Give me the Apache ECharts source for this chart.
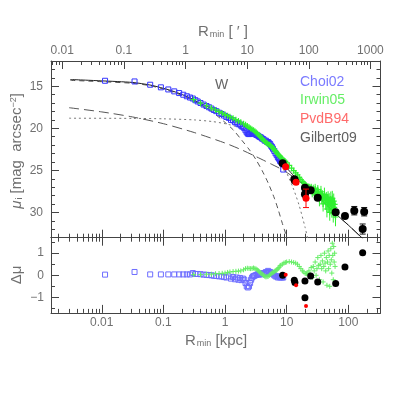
<!DOCTYPE html>
<html><head><meta charset="utf-8">
<script src="https://cdn.jsdelivr.net/npm/echarts@6/dist/echarts.min.js"></script>
<style>html,body{margin:0;padding:0;background:#fff}#c{width:415px;height:415px}</style>
</head><body><div id="c"></div>
<script>
// ---------------- data (R in kpc, mu in mag arcsec^-2, residual in mag) ----------------
const kpcTicks = [0.01, 0.1, 1, 10, 100];
const arcminTicks = [0.01, 0.1, 1, 10, 100, 1000];
const muTicks = [15, 20, 25, 30];
const resTicks = [-1, 0, 1];
const rMinKpc = 0.0015, rMaxKpc = 333;
const muMin = 12, muMax = 33;
const resMin = -1.7, resMax = 1.7;
const KPC_PER_ARCMIN = 0.22835;

// model components
const totalR  = [0.00309,0.01,0.0316,0.0603,0.0891,0.129,0.186,0.269,0.389,0.575,0.832,1.2,1.74,2.57,3.72,5.37,6.46,7.76,8.71,10,13.5,20,25.1,31.6,39.8,57,100,166,180];
const totalMu = [14.20,14.36,14.55,14.85,15.15,15.48,15.89,16.38,17.0,17.58,18.16,18.78,19.4,20.3,21.1,22.0,22.8,23.75,24.2,24.7,25.75,26.8,27.4,28.05,28.75,29.9,31.5,33.0,33.25];
const haloR  = [0.00295,0.01,0.0316,0.1,0.316,1,1.78,3.16,5.62,8.91,13.2,20,31.6,57,100,200];
const haloMu = [17.55,18.05,18.65,19.45,20.5,21.75,22.5,23.35,24.25,25.0,25.85,26.85,28.1,29.9,31.5,33.6];
const bulgeR  = [0.00309,0.01,0.0316,0.0603,0.1,0.158,0.251,0.398,0.631,1.0,1.365,1.862,2.512,3.162,3.981,5.012,6.31,7.31,8.51,10,11.2];
const bulgeMu = [14.3,14.46,14.65,14.93,15.33,15.8,16.4,17.2,18.1,19.3,20.2,21.4,22.6,23.7,25.0,26.5,28.3,29.7,31.3,32.9,34.2];
const diskR  = [0.00295,0.0316,0.1,0.316,0.631,1,1.585,2.512,3.162,3.981,5.012,6.31,7.943,10,12.59,15.85,19.95,22.9];
const diskMu = [18.8,18.82,18.87,19.0,19.2,19.45,19.83,20.43,20.86,21.4,22.06,22.9,23.96,25.3,27.0,29.1,31.8,33.7];

// Choi02
const choiR = [0.0113,0.034,0.061,0.091,0.12,0.15,0.18,0.21,0.24,0.27,0.30,0.33,0.36,0.40,0.45,0.50,0.55,0.60,0.66,0.72,0.80,0.88,0.96,1.05,1.15,1.25,1.35,1.45,1.55,1.65,1.75,1.85,1.95,2.05,2.15,2.25,2.35,2.45,2.55,2.65,2.75,2.85,2.95,3.1,3.25,3.4,3.55,3.7,3.85,4.0,4.2,4.4,4.6,4.8,5.0,5.2,5.4,5.6,5.8,6.0,6.3,6.6,6.9,7.2,7.5,7.8,8.1,8.4,8.8];
const choiMu = [14.35,14.43,14.82,15.13,15.38,15.61,15.81,16.01,16.19,16.34,16.46,16.66,16.81,16.99,17.18,17.35,17.50,17.65,17.82,17.96,18.15,18.30,18.48,18.65,18.76,19.00,19.05,19.27,19.31,19.51,19.54,19.76,19.81,19.98,20.24,20.49,20.64,20.69,20.63,20.57,20.55,20.58,20.63,20.71,20.79,20.86,20.97,21.04,21.10,21.23,21.30,21.46,21.47,21.62,21.63,21.77,21.87,22.08,22.23,22.43,22.69,22.97,23.19,23.46,23.62,23.87,23.99,24.16,24.9];
const choiRes = [0.03,0.15,0.04,0.04,0.04,0.04,0.04,0.04,0.04,0.04,0.10,0.06,0.06,0.05,0.03,0.02,0.01,0.00,-0.02,-0.03,-0.05,-0.05,-0.08,-0.10,-0.05,-0.15,-0.08,-0.18,-0.10,-0.20,-0.12,-0.22,-0.15,-0.20,-0.35,-0.50,-0.55,-0.50,-0.35,-0.20,-0.10,-0.05,-0.03,0.00,0.02,0.05,0.03,0.05,0.08,0.05,0.10,0.05,0.15,0.10,0.20,0.15,0.15,0.10,0.10,0.05,0.00,-0.05,-0.05,-0.10,-0.05,-0.10,-0.08,-0.10,-0.10];

// Irwin05
const irwinR = [0.31,0.4,0.5,0.6,0.7,0.8,0.9,1.0,1.1,1.2,1.35,1.5,1.65,1.8,2.0,2.15,2.3,2.45,2.6,2.75,2.9,3.05,3.2,3.35,3.5,3.65,3.8,4.0,4.2,4.4,4.6,4.8,5.0,5.25,5.5,5.75,6.0,6.25,6.5,6.75,7.0,7.25,7.5,7.75,8.0,8.5,9.0,9.5,10,11,12,13,14,15,16,17,18,19,20,21,22,
  23,24,25,26,27,28,29,30,31,32,33,34,35,36,37,38,39,40,41,42,43,44,45,46,47,48,49,50,51,52,53,54,55,56,57,58,59,60,61,62];
const irwinMu = [16.59,17.01,17.32,17.60,17.82,18.02,18.20,18.37,18.50,18.62,18.80,18.97,19.12,19.28,19.47,19.59,19.73,19.88,20.03,20.14,20.23,20.36,20.50,20.64,20.77,20.91,21.06,21.23,21.40,21.55,21.69,21.78,21.88,21.94,22.05,22.20,22.36,22.50,22.64,22.80,22.97,23.09,23.22,23.32,23.42,23.60,23.77,23.94,24.10,24.41,24.74,25.04,25.30,25.54,25.82,26.09,26.32,26.52,26.72,26.86,26.95,
  26.97,27.23,27.04,27.6,27.2,27.51,27.2,27.9,27.69,27.29,27.73,28.47,27.86,27.54,28.23,27.96,28.99,28.37,27.85,28.37,28.8,28.27,29.59,28.62,28.18,29.05,28.51,29.98,29.05,28.41,28.97,29.62,28.33,28.94,30.1,28.65,29.4,29.04,29.69,30.54];
const irwinErr = [0.08,0.08,0.08,0.08,0.08,0.08,0.08,0.08,0.08,0.08,0.08,0.08,0.08,0.08,0.08,0.08,0.08,0.08,0.08,0.08,0.08,0.08,0.08,0.08,0.08,0.08,0.08,0.08,0.08,0.08,0.08,0.08,0.08,0.08,0.08,0.08,0.1,0.1,0.1,0.1,0.1,0.1,0.1,0.12,0.12,0.12,0.12,0.15,0.15,0.18,0.2,0.22,0.25,0.28,0.3,0.3,0.35,0.35,0.4,0.4,0.4,
  0.4,0.5,0.45,0.6,0.5,0.55,0.6,0.5,0.7,0.55,0.6,0.8,0.6,0.7,0.75,0.6,0.9,0.7,0.8,0.65,0.9,0.7,1.0,0.8,0.7,0.9,0.8,1.0,0.85,0.9,0.8,1.0,0.9,0.8,1.1,0.9,1.0,0.8,1.0,1.1];
const irwinRes = [0.03,0.03,0.05,0.05,0.07,0.08,0.09,0.10,0.13,0.15,0.17,0.18,0.19,0.20,0.25,0.30,0.32,0.31,0.30,0.31,0.33,0.31,0.28,0.24,0.20,0.15,0.10,0.05,0.00,-0.04,-0.07,-0.06,-0.05,0.00,0.05,0.10,0.12,0.16,0.20,0.23,0.25,0.30,0.35,0.42,0.45,0.50,0.55,0.58,0.60,0.62,0.60,0.58,0.55,0.50,0.40,0.30,0.20,0.15,0.08,0.07,0.10,
  0.2,0.05,0.35,-0.1,0.4,0.2,0.6,0.0,0.3,0.8,0.45,-0.2,0.5,0.9,0.3,0.65,-0.3,0.4,1.0,0.55,0.2,0.8,-0.45,0.6,1.1,0.3,0.9,-0.5,0.5,1.2,0.7,0.1,1.45,0.9,-0.2,1.3,0.6,1.0,0.4,-0.4];

// PvdB94
const pvdbR = [9.64, 14.2, 20.6];
const pvdbMu = [24.56, 26.42, 28.32];
const pvdbErr = [0.15, 0.2, 1.1];
const pvdbRes = [0.03, -0.45, -1.39];

// Gilbert09
const gilR = [8.6, 13.3, 13.6, 19.8, 19.8, 24.5, 31.9, 62.4, 88.3, 125, 181, 171];
const gilMu = [24.16, 26.06, 26.2, 27.06, 27.84, 27.37, 28.25, 29.98, 30.42, 29.79, 29.91, 31.97];
const gilErr = [0.15, 0.15, 0.15, 0.15, 0.2, 0.15, 0.2, 0.15, 0.2, 0.5, 0.5, 0.6];
const gilResR = [8.6, 13.3, 13.6, 19.8, 19.8, 24.5, 31.9, 62.4, 88.3, 171];
const gilRes = [0.0, -0.22, -0.33, -0.26, -1.02, -0.03, -0.3, -0.37, 0.37, 1.02];

const legendNames = ['Choi02', 'Irwin05', 'PvdB94', 'Gilbert09'];

// ---------------- styling ----------------
const FONT = '"Liberation Sans", Arial, sans-serif';
const AX = '#444';
const TXT = '#707070';
const BLUE = '#3434ff', BLUE2 = '#6d6dff';
const GREEN = '#30f030', GREEN2 = '#66ee66';
const RED = '#ff0000';
const BLACK = '#000';
const legendColors = ['#7a7aff', '#66ee66', '#ff6a6a', '#606060'];

const L10 = Math.log10;
const xMin = L10(rMinKpc), xMax = L10(rMaxKpc);
const arcOff = -L10(KPC_PER_ARCMIN);
function majorLogs(vals) { return vals.map(v => L10(v)); }
function minorLogs(lo, hi) {
  const out = [];
  for (let d = -4; d <= 4; d++) for (let k = 2; k <= 9; k++) { const v = L10(k) + d; if (v > lo && v < hi) out.push(v); }
  return out;
}
function fmtPow(v) { const n = Math.pow(10, v); return n < 1 ? n.toFixed(Math.round(-v)) : String(Math.round(n)); }
function range(a, b, s) { const o = []; for (let v = a; v <= b + 1e-9; v += s) o.push(+v.toFixed(3)); return o; }

function axisCommon(min, max, tickVals, len, showLine, labelVals, fmt, margin) {
  return {
    type: 'value', min, max,
    axisLine: { show: showLine, onZero: false, lineStyle: { color: AX, width: 1 } },
    axisTick: { show: true, inside: true, length: len, customValues: tickVals, lineStyle: { color: AX, width: 1 } },
    axisLabel: labelVals ? { show: true, customValues: labelVals, formatter: fmt, color: TXT, fontSize: 12, fontFamily: FONT, margin } : { show: false },
    splitLine: { show: false }, minorTick: { show: false }, splitArea: { show: false }
  };
}
const MAJ = 8, MIN = 4;
const kMaj = majorLogs(kpcTicks), kMin = minorLogs(xMin, xMax);
const aMaj = majorLogs(arcminTicks), aMin = minorLogs(xMin + arcOff, xMax + arcOff);
const xAxes = [
  Object.assign(axisCommon(xMin, xMax, kMaj, MAJ, true, null), { gridIndex: 0, position: 'bottom' }),
  Object.assign(axisCommon(xMin, xMax, kMin, MIN, false, null), { gridIndex: 0, position: 'bottom' }),
  Object.assign(axisCommon(xMin + arcOff, xMax + arcOff, aMaj, MAJ, true, aMaj, fmtPow, 4), { gridIndex: 0, position: 'top' }),
  Object.assign(axisCommon(xMin + arcOff, xMax + arcOff, aMin, MIN, false, null), { gridIndex: 0, position: 'top' }),
  Object.assign(axisCommon(xMin, xMax, kMaj, MAJ, true, kMaj, fmtPow, 4), { gridIndex: 1, position: 'bottom' }),
  Object.assign(axisCommon(xMin, xMax, kMin, MIN, false, null), { gridIndex: 1, position: 'bottom' }),
  Object.assign(axisCommon(xMin, xMax, kMaj, MAJ, true, null), { gridIndex: 1, position: 'top' }),
  Object.assign(axisCommon(xMin, xMax, kMin, MIN, false, null), { gridIndex: 1, position: 'top' })
];
const muMinor = range(13, 32, 1).filter(v => muTicks.indexOf(v) < 0);
const resMinor = [-1.5, -0.5, 0.5, 1.5];
const fmtRes = v => (v < 0 ? '\u2212' + Math.abs(v) : String(v));
const yAxes = [
  Object.assign(axisCommon(muMin, muMax, muTicks, MAJ, true, muTicks, v => String(v), 8), { gridIndex: 0, position: 'left', inverse: true }),
  Object.assign(axisCommon(muMin, muMax, muMinor, MIN, false, null), { gridIndex: 0, position: 'left', inverse: true }),
  Object.assign(axisCommon(muMin, muMax, muTicks, MAJ, true, null), { gridIndex: 0, position: 'right', inverse: true }),
  Object.assign(axisCommon(muMin, muMax, muMinor, MIN, false, null), { gridIndex: 0, position: 'right', inverse: true }),
  Object.assign(axisCommon(resMin, resMax, resTicks, MAJ, true, resTicks, fmtRes, 7), { gridIndex: 1, position: 'left' }),
  Object.assign(axisCommon(resMin, resMax, resMinor, MIN, false, null), { gridIndex: 1, position: 'left' }),
  Object.assign(axisCommon(resMin, resMax, resTicks, MAJ, true, null), { gridIndex: 1, position: 'right' }),
  Object.assign(axisCommon(resMin, resMax, resMinor, MIN, false, null), { gridIndex: 1, position: 'right' })
];

function pts(R, V) { return R.map((r, i) => [L10(r), V[i]]); }
function lineSeries(name, R, V, color, type, z) {
  return { type: 'line', name, xAxisIndex: 0, yAxisIndex: 0, data: pts(R, V), symbol: 'none', smooth: 0.25,
    lineStyle: { color, width: 1, type, opacity: 1 }, z, silent: true, animation: false };
}
function scatterSeries(name, xi, yi, R, V, symbol, size, style, z) {
  return { type: 'scatter', name, xAxisIndex: xi, yAxisIndex: yi, data: pts(R, V), symbol, symbolSize: size,
    itemStyle: Object.assign({ opacity: 1 }, style), z, silent: true, animation: false };
}
function errSeries(name, xi, yi, R, V, E, color, cap, z) {
  return { type: 'custom', name, xAxisIndex: xi, yAxisIndex: yi, z, clip: true, silent: true, animation: false,
    data: R.map((r, i) => [L10(r), V[i] - E[i], V[i] + E[i]]),
    encode: { x: 0, y: [1, 2] },
    renderItem: (params, api) => {
      const x = api.value(0);
      const a = api.coord([x, api.value(1)]), b = api.coord([x, api.value(2)]);
      const st = { stroke: color, lineWidth: 1 };
      const ch = [{ type: 'line', shape: { x1: a[0], y1: a[1], x2: b[0], y2: b[1] }, style: st }];
      if (cap > 0) {
        ch.push({ type: 'line', shape: { x1: a[0] - cap, y1: a[1], x2: a[0] + cap, y2: a[1] }, style: st });
        ch.push({ type: 'line', shape: { x1: b[0] - cap, y1: b[1], x2: b[0] + cap, y2: b[1] }, style: st });
      }
      return { type: 'group', children: ch };
    } };
}
const CROSS = 'path://M5,0L5,10M0,5L10,5';
const series = [
  lineSeries('disk', diskR, diskMu, '#777', [2, 3], 1),
  lineSeries('halo', haloR, haloMu, '#555', [10, 5], 1),
  lineSeries('bulge', bulgeR, bulgeMu, '#555', [5, 4], 1),
  lineSeries('total', totalR, totalMu, '#222', 'solid', 2),
  scatterSeries('Choi02', 0, 0, choiR, choiMu, 'rect', 5, { color: 'rgba(0,0,0,0)', borderColor: BLUE, borderWidth: 1 }, 3),
  errSeries('Irwin05 err', 0, 0, irwinR, irwinMu, irwinErr, GREEN, 0, 4),
  scatterSeries('Irwin05', 0, 0, irwinR, irwinMu, CROSS, 6, { color: 'rgba(0,0,0,0)', borderColor: GREEN, borderWidth: 1.2 }, 4),
  errSeries('Gilbert09 err', 0, 0, gilR, gilMu, gilErr, '#111', 3, 5),
  scatterSeries('Gilbert09', 0, 0, gilR, gilMu, 'circle', 8, { color: BLACK }, 6),
  errSeries('PvdB94 err', 0, 0, pvdbR, pvdbMu, pvdbErr, RED, 3, 7),
  scatterSeries('PvdB94', 0, 0, pvdbR, pvdbMu, 'circle', 7, { color: RED }, 8),
  // residual panel
  scatterSeries('Choi02 res', 4, 4, choiR, choiRes, 'rect', 5, { color: 'rgba(0,0,0,0)', borderColor: BLUE2, borderWidth: 1 }, 3),
  scatterSeries('Irwin05 res', 4, 4, irwinR, irwinRes, CROSS, 5, { color: 'rgba(0,0,0,0)', borderColor: GREEN2, borderWidth: 1 }, 4),
  scatterSeries('Gilbert09 res', 4, 4, gilResR, gilRes, 'circle', 7, { color: BLACK }, 6),
  scatterSeries('PvdB94 res', 4, 4, pvdbR, pvdbRes, 'circle', 4, { color: RED }, 7)
];

const subRich = { fontSize: 9, fontFamily: FONT, fill: TXT, padding: [6, 0, 0, 1] };
const supRich = { fontSize: 9, fontFamily: FONT, fill: TXT, padding: [0, 0, 6, 0] };
const graphic = [
  { type: 'text', x: 198, y: 32, silent: true, style: { text: 'R{sub|min} [ \u2032 ]', fill: TXT, fontSize: 15, fontFamily: FONT, align: 'left', verticalAlign: 'middle', rich: { sub: subRich } } },
  { type: 'text', x: 185, y: 341, silent: true, style: { text: 'R{sub|min} [kpc]', fill: TXT, fontSize: 15, fontFamily: FONT, align: 'left', verticalAlign: 'middle', rich: { sub: subRich } } },
  { type: 'text', x: 17, y: 151, rotation: Math.PI / 2, silent: true, style: { text: '{it|\u03bc}{sub|i} [mag  arcsec{sup|\u22122}]', fill: TXT, fontSize: 15, fontFamily: FONT, align: 'center', verticalAlign: 'middle', rich: { it: { fontSize: 15, fontStyle: 'italic', fontFamily: FONT, fill: TXT }, sub: subRich, sup: supRich } } },
  { type: 'text', x: 17, y: 275, rotation: Math.PI / 2, silent: true, style: { text: '\u0394\u03bc', fill: TXT, fontSize: 15, fontFamily: FONT, align: 'center', verticalAlign: 'middle' } },
  { type: 'text', x: 221.7, y: 85, silent: true, style: { text: 'W', fill: '#666', fontSize: 14, fontFamily: FONT, align: 'center', verticalAlign: 'middle' } }
];
legendNames.forEach((n, i) => {
  graphic.push({ type: 'text', x: 300, y: 81.7 + i * 18.9, silent: true, style: { text: n, fill: legendColors[i], fontSize: 14, fontFamily: FONT, align: 'left', verticalAlign: 'middle' } });
});

const chart = echarts.init(document.getElementById('c'), null, { renderer: 'canvas', width: 415, height: 415 });
chart.setOption({
  animation: false,
  backgroundColor: '#fff',
  grid: [
    { left: 51, top: 61, width: 329.5, height: 176.7, outerBoundsMode: 'none', containLabel: false },
    { left: 51, top: 237.7, width: 329.5, height: 75.2, outerBoundsMode: 'none', containLabel: false }
  ],
  xAxis: xAxes,
  yAxis: yAxes,
  series,
  graphic
});
</script></body></html>
